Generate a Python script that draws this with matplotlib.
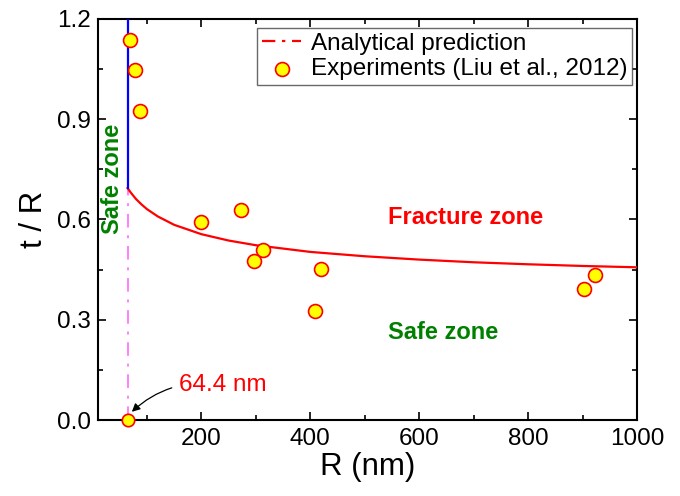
import numpy as np
import matplotlib.pyplot as plt

plt.rcParams['font.family'] = ['Liberation Sans', 'DejaVu Sans']

# critical radius (nm)
r_crit = 64.4

# analytical prediction, t/R vs R
pred_R = [64.4, 70, 80, 90, 100, 120, 150, 200, 250, 300, 400, 500, 600, 700, 800, 900, 1000]
pred_tR = [0.694, 0.681, 0.661, 0.645, 0.631, 0.609, 0.584, 0.556, 0.537, 0.523,
           0.503, 0.490, 0.480, 0.472, 0.466, 0.461, 0.457]

# experiments (Liu et al., 2012)
exp_R = [68, 78, 88, 199, 272, 313, 296, 420, 408, 923, 902]
exp_tR = [1.137, 1.047, 0.925, 0.593, 0.627, 0.509, 0.476, 0.453, 0.326, 0.434, 0.391]

fig = plt.figure(figsize=(6.8, 4.96), dpi=100)
ax = fig.add_axes([0.144, 0.153, 0.793, 0.809])

ax.plot(pred_R, pred_tR, color='red', lw=1.6, zorder=3)
ax.plot([r_crit, r_crit], [pred_tR[0], 1.2], color='blue', lw=1.6, zorder=3)
ax.plot([r_crit, r_crit], [0, pred_tR[0]], color='#ff80ff', lw=1.4,
        dashes=(7, 4, 1.5, 4), zorder=2)

ax.scatter(exp_R, exp_tR, s=100, facecolor='yellow', edgecolor='red', lw=1.2, zorder=4)
ax.scatter([r_crit], [0], s=80, facecolor='yellow', edgecolor='red', lw=1.2,
           zorder=5, clip_on=False)

# legend proxies
h1, = ax.plot([], [], color='red', lw=1.6, dashes=(6, 3, 1.5, 3))
h2 = ax.scatter([], [], s=100, facecolor='yellow', edgecolor='red', lw=1.2)
leg = ax.legend([h1, h2], ['Analytical prediction', 'Experiments (Liu et al., 2012)'],
                loc='upper right', bbox_to_anchor=(1.0, 0.99), fontsize=17.5,
                frameon=True, fancybox=False, borderpad=0.2, handlelength=1.6,
                handletextpad=0.4, labelspacing=0.15, borderaxespad=0.2)
leg.get_frame().set_edgecolor('#444444')
leg.get_frame().set_linewidth(1.0)

ax.text(542, 0.605, 'Fracture zone', color='red', fontsize=17, fontweight='bold',
        ha='left', va='center')
ax.text(542, 0.263, 'Safe zone', color='#008000', fontsize=17, fontweight='bold',
        ha='left', va='center')
ax.text(37, 0.72, 'Safe zone', color='#008000', fontsize=17, fontweight='bold',
        ha='center', va='center', rotation=90)

ax.annotate('64.4 nm', xy=(r_crit + 6, 0.022), xytext=(158, 0.105),
            color='red', fontsize=17.5, ha='left', va='center',
            arrowprops=dict(arrowstyle='-|>', color='black', lw=0.9,
                            connectionstyle='arc3,rad=0.25', shrinkA=3, shrinkB=1,
                            mutation_scale=12))

ax.set_xlim(10, 1000)
ax.set_ylim(0, 1.2)
ax.set_xticks([200, 400, 600, 800, 1000])
ax.set_xticks(np.arange(100, 1000, 200), minor=True)
ax.set_yticks([0.0, 0.3, 0.6, 0.9, 1.2])
ax.set_yticks([0.15, 0.45, 0.75, 1.05], minor=True)
ax.set_yticklabels(['0.0', '0.3', '0.6', '0.9', '1.2'])

ax.tick_params(which='both', direction='in', top=True, right=True, labelsize=17.5, width=1.2)
ax.tick_params(which='major', length=6)
ax.tick_params(which='minor', length=3.5)
ax.tick_params(axis='x', pad=6)
ax.tick_params(axis='y', pad=5)
for sp in ax.spines.values():
    sp.set_linewidth(1.5)

ax.set_xlabel('R (nm)', fontsize=22.5, labelpad=1)
ax.set_ylabel('t / R', fontsize=22.5, labelpad=6)

fig.savefig('out.png', dpi=100)
